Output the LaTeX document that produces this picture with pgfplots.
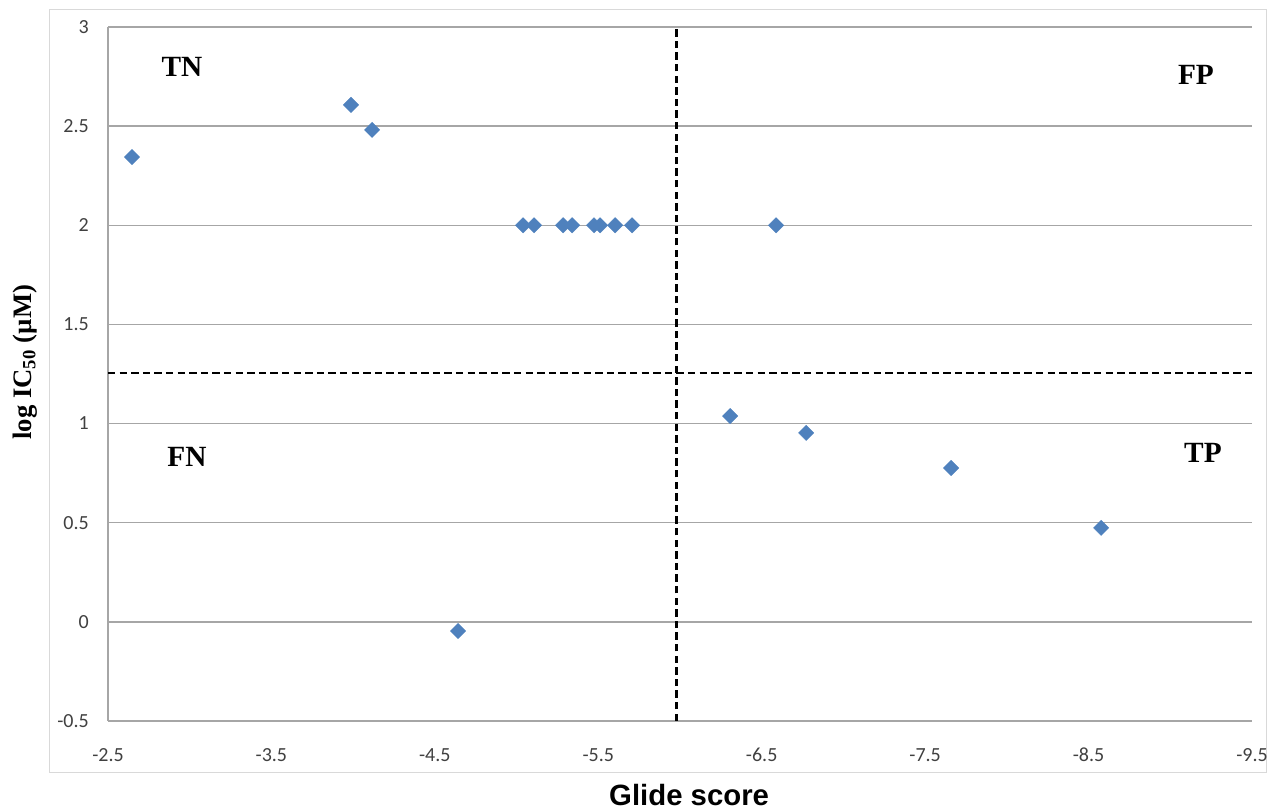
\documentclass[border=0pt]{standalone}
\usepackage{fontspec}
\setmainfont{Liberation Serif}
\newfontfamily\tickfont{Carlito}
\newfontfamily\arialfont{Liberation Sans}
\usepackage{pgfplots}
\pgfplotsset{compat=1.18}
\definecolor{tickgray}{HTML}{404040}
\definecolor{gridgray}{HTML}{A6A6A6}
\definecolor{framegray}{HTML}{D9D9D9}
\definecolor{markblue}{HTML}{4F81BD}
\begin{document}
\begin{tikzpicture}
\useasboundingbox (-81pt,-68.25pt) rectangle (869.25pt,540.75pt);
\draw[framegray, line width=0.75pt] (-43.5pt,-39pt) rectangle (868.5pt,533.25pt);
\begin{axis}[
  at={(0pt,0pt)}, anchor=south west,
  width=858pt, height=520.5pt, scale only axis,
  x dir=reverse,
  xmin=-9.5, xmax=-2.5, ymin=-0.5, ymax=3,
  xtick={-2.5,-3.5,-4.5,-5.5,-6.5,-7.5,-8.5,-9.5},
  xticklabels={-2.5,-3.5,-4.5,-5.5,-6.5,-7.5,-8.5,-9.5},
  ytick={-0.5,0,0.5,1,1.5,2,2.5,3},
  yticklabels={-0.5,0,0.5,1,1.5,2,2.5,3},
  tick label style={font=\tickfont\fontsize{15}{17}\selectfont, color=tickgray, inner sep=0pt},
  xticklabel style={anchor=center, yshift=-25.5pt},
  yticklabel style={anchor=east, xshift=-14.25pt},
  major tick length=0pt,
  ymajorgrids,
  grid style={color=gridgray, line width=1pt},
  axis line style={draw=none},
  clip=false,
  xlabel={Glide score},
  xlabel style={at={(axis description cs:0.508,-0.106)}, anchor=center, font=\arialfont\bfseries\fontsize{22}{24}\selectfont},
  ylabel={log IC\textsubscript{50} (µM)},
  ylabel style={at={(axis description cs:-0.0726,0.517)}, anchor=center, font=\bfseries\fontsize{20}{24}\selectfont},
]
\draw[gridgray, line width=1pt] (axis description cs:0,0) -- (axis description cs:0,1);
\addplot[black, line width=2.2pt, dash pattern=on 5.5pt off 3.2pt] coordinates {(-5.98,-0.5) (-5.98,3)};
\addplot[black, line width=2.2pt, dash pattern=on 5.5pt off 3.2pt] coordinates {(-2.5,1.255) (-9.5,1.255)};
\addplot[only marks, mark=square*, mark size=4.1pt, mark options={rotate=45, fill=markblue, draw=markblue, line width=0.2pt}] coordinates {
(-2.647,2.344) (-3.987,2.607) (-4.116,2.481) (-4.642,-0.046)
(-5.040,2.0) (-5.107,2.0) (-5.285,2.0) (-5.340,2.0) (-5.474,2.0) (-5.511,2.0) (-5.603,2.0) (-5.707,2.0)
(-6.588,2.0) (-6.307,1.038) (-6.772,0.953) (-7.659,0.776) (-8.577,0.474)
};
\node[font=\bfseries\fontsize{22}{24}\selectfont] at (axis cs:-2.953,2.798) {TN};
\node[font=\bfseries\fontsize{22}{24}\selectfont] at (axis cs:-9.157,2.758) {FP};
\node[font=\bfseries\fontsize{22}{24}\selectfont] at (axis cs:-2.983,0.831) {FN};
\node[font=\bfseries\fontsize{22}{24}\selectfont] at (axis cs:-9.200,0.852) {TP};
\end{axis}
\end{tikzpicture}
\end{document}
